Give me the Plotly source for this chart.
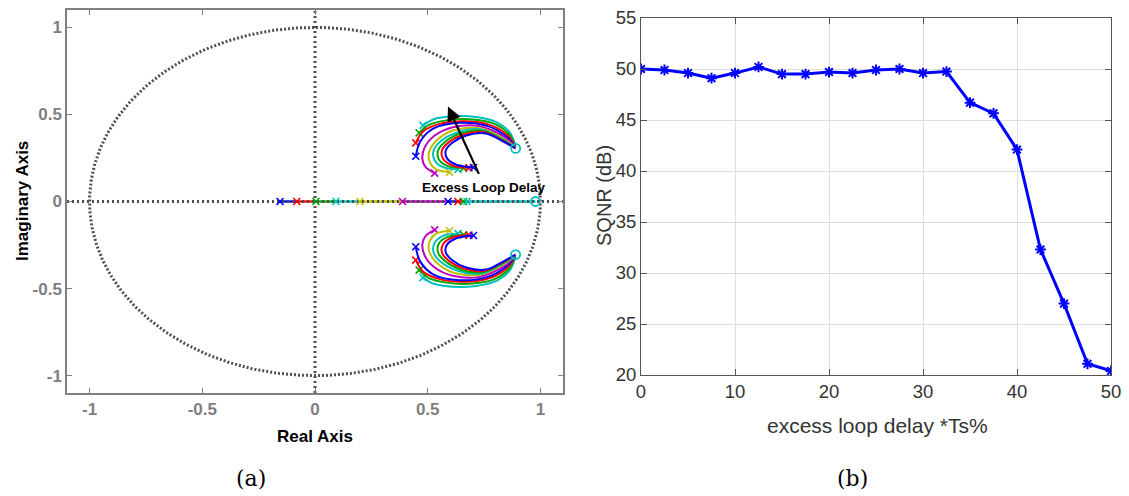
import plotly.graph_objects as go
import numpy as np

# ---------------- data ----------------
# (b) SQNR vs excess loop delay
ELD_PCT = [0, 2.5, 5, 7.5, 10, 12.5, 15, 17.5, 20, 22.5, 25, 27.5, 30, 32.5, 35, 37.5, 40, 42.5, 45, 47.5, 50]
SQNR_DB = [50.0, 49.9, 49.6, 49.1, 49.6, 50.2, 49.5, 49.5, 49.7, 49.6, 49.9, 50.0, 49.6, 49.75,
           46.7, 45.65, 42.1, 32.3, 27.0, 21.1, 20.4]
B_XTICKS = [0, 10, 20, 30, 40, 50]
B_YTICKS = [20, 25, 30, 35, 40, 45, 50, 55]

# (a) root locus (upper half; lower half is the complex conjugate)
A_TICKVALS = [-1, -0.5, 0, 0.5, 1]
A_TICKTEXT = ["-1", "-0.5", "0", "0.5", "1"]

ZERO_RE = 0.89
ZERO_IM = 0.305
REAL_ZERO = 0.978

LOCUS_COLORS = ["#00bfbf", "#00a800", "#ff0000", "#0000ff", "#bf00bf", "#bfbf00",
                "#00bfbf", "#00a800", "#ff0000", "#0000ff"]
L1_RE = [0.479, 0.524, 0.612, 0.715, 0.804, 0.863, 0.889]
L1_IM = [0.437, 0.471, 0.489, 0.485, 0.456, 0.398, 0.322]
L2_RE = [0.462, 0.501, 0.583, 0.700, 0.796, 0.859, 0.889]
L2_IM = [0.394, 0.437, 0.466, 0.471, 0.446, 0.389, 0.318]
L3_RE = [0.447, 0.479, 0.553, 0.671, 0.781, 0.855, 0.889]
L3_IM = [0.337, 0.402, 0.446, 0.461, 0.437, 0.379, 0.315]
L4_RE = [0.447, 0.465, 0.524, 0.641, 0.767, 0.851, 0.889]
L4_IM = [0.260, 0.341, 0.418, 0.452, 0.433, 0.370, 0.312]
L5_RE = [0.531, 0.491, 0.476, 0.487, 0.531, 0.612, 0.730, 0.841, 0.889]
L5_IM = [0.163, 0.197, 0.245, 0.312, 0.379, 0.427, 0.433, 0.370, 0.310]
L6_RE = [0.597, 0.538, 0.509, 0.506, 0.538, 0.612, 0.730, 0.838, 0.889]
L6_IM = [0.168, 0.184, 0.226, 0.283, 0.349, 0.408, 0.421, 0.360, 0.309]
L7_RE = [0.634, 0.568, 0.531, 0.526, 0.560, 0.634, 0.737, 0.838, 0.889]
L7_IM = [0.184, 0.197, 0.236, 0.293, 0.349, 0.398, 0.414, 0.354, 0.308]
L8_RE = [0.659, 0.590, 0.550, 0.546, 0.579, 0.648, 0.745, 0.838, 0.889]
L8_IM = [0.192, 0.203, 0.240, 0.293, 0.345, 0.392, 0.406, 0.349, 0.307]
L9_RE = [0.683, 0.609, 0.568, 0.563, 0.594, 0.660, 0.752, 0.839, 0.889]
L9_IM = [0.193, 0.207, 0.245, 0.293, 0.341, 0.385, 0.398, 0.345, 0.306]
L10_RE = [0.703, 0.627, 0.585, 0.580, 0.609, 0.671, 0.759, 0.840, 0.889]
L10_IM = [0.195, 0.211, 0.249, 0.293, 0.337, 0.379, 0.391, 0.341, 0.305]

REAL_POLES = [-0.155, -0.081, 0.004, 0.093, 0.199, 0.388, 0.59, 0.634, 0.659, 0.674]
REAL_COLORS = ["#0000ff", "#ff0000", "#00a800", "#00bfbf", "#bfbf00", "#bf00bf",
               "#0000ff", "#ff0000", "#00a800", "#00bfbf"]

LOCI = [(L1_RE, L1_IM), (L2_RE, L2_IM), (L3_RE, L3_IM), (L4_RE, L4_IM), (L5_RE, L5_IM),
        (L6_RE, L6_IM), (L7_RE, L7_IM), (L8_RE, L8_IM), (L9_RE, L9_IM), (L10_RE, L10_IM)]

# ---------------- page geometry ----------------
W, H = 1129, 496


def px(X):
    return X / W


def py(Y):
    return 1 - Y / H


# ---------------- figure ----------------
fig = go.Figure()
GRAY_DOT = "#4f4f4f"

# unit circle
th = np.linspace(0, 2 * np.pi, 400)
fig.add_trace(go.Scatter(x=np.cos(th), y=np.sin(th), mode="lines",
                         line=dict(color=GRAY_DOT, width=3, dash="2px,2px"),
                         xaxis="x", yaxis="y", hoverinfo="skip"))

# real-axis branches
seg_ends = REAL_POLES[1:] + [REAL_ZERO]
for p0, p1, c in zip(REAL_POLES, seg_ends, REAL_COLORS):
    fig.add_trace(go.Scatter(x=[p0, p1], y=[0, 0], mode="lines",
                             line=dict(color=c, width=2.4), xaxis="x", yaxis="y"))

# dotted axes lines (on top of real-axis branches)
fig.add_trace(go.Scatter(x=[-1.1, 1.1], y=[0, 0], mode="lines",
                         line=dict(color=GRAY_DOT, width=3, dash="2px,3px"),
                         xaxis="x", yaxis="y"))
fig.add_trace(go.Scatter(x=[0, 0], y=[-1.1, 1.1], mode="lines",
                         line=dict(color=GRAY_DOT, width=3, dash="2px,3px"),
                         xaxis="x", yaxis="y"))

# complex loci
for (re, im), c in zip(LOCI, LOCUS_COLORS):
    for sgn in (1, -1):
        ims = [sgn * v for v in im]
        fig.add_trace(go.Scatter(x=re, y=ims, mode="lines",
                                 line=dict(color=c, width=2, shape="spline", smoothing=0.9),
                                 xaxis="x", yaxis="y"))
        fig.add_trace(go.Scatter(x=[re[0]], y=[ims[0]], mode="markers",
                                 marker=dict(symbol="x-thin-open", size=7, color=c,
                                             line=dict(color=c, width=1.6)),
                                 xaxis="x", yaxis="y"))

# real-axis poles
fig.add_trace(go.Scatter(x=REAL_POLES, y=[0] * len(REAL_POLES), mode="markers",
                         marker=dict(symbol="x-thin-open", size=7, color=REAL_COLORS,
                                     line=dict(color=REAL_COLORS, width=1.6)),
                         xaxis="x", yaxis="y"))

# zeros
fig.add_trace(go.Scatter(x=[ZERO_RE, ZERO_RE, REAL_ZERO], y=[ZERO_IM, -ZERO_IM, 0], mode="markers",
                         marker=dict(symbol="circle-open", size=9, color="#00bfbf",
                                     line=dict(color="#00bfbf", width=1.8)),
                         xaxis="x", yaxis="y"))

# (b) SQNR curve
fig.add_trace(go.Scatter(x=ELD_PCT, y=SQNR_DB, mode="lines+markers",
                         line=dict(color="#0000ff", width=3),
                         marker=dict(symbol="asterisk-open", size=9, color="#0000ff",
                                     line=dict(color="#0000ff", width=2)),
                         xaxis="x2", yaxis="y2"))

a_tickfont = dict(family="Liberation Sans", size=17, color="#7f7f7f", weight="bold")
b_tickfont = dict(family="Liberation Sans", size=18.5, color="#333333")

fig.update_layout(
    width=W, height=H,
    margin=dict(l=0, r=0, t=0, b=0, autoexpand=False),
    paper_bgcolor="white", plot_bgcolor="white",
    showlegend=False,
    xaxis=dict(domain=[px(67), px(563)], range=[-1.1, 1.1], tickvals=A_TICKVALS,
               ticktext=A_TICKTEXT, ticks="inside", ticklen=5, tickcolor="#808080",
               showline=True, linecolor="#808080", linewidth=1.5, mirror="ticks",
               showgrid=False, zeroline=False, tickfont=a_tickfont, anchor="y"),
    yaxis=dict(domain=[py(393), py(10)], range=[-1.1, 1.1], tickvals=A_TICKVALS,
               ticktext=A_TICKTEXT, ticks="inside", ticklen=5, tickcolor="#808080",
               showline=True, linecolor="#808080", linewidth=1.5, mirror="ticks",
               showgrid=False, zeroline=False, tickfont=a_tickfont, anchor="x"),
    xaxis2=dict(domain=[px(641), px(1111)], range=[0, 50], tickvals=B_XTICKS,
                ticks="inside", ticklen=6, tickcolor="#555555",
                showline=True, linecolor="#555555", linewidth=1, mirror="ticks",
                showgrid=True, gridcolor="#dedede", gridwidth=1, zeroline=False,
                tickfont=b_tickfont, anchor="y2"),
    yaxis2=dict(domain=[py(375), py(18)], range=[20, 55], tickvals=B_YTICKS,
                ticks="inside", ticklen=6, tickcolor="#555555",
                showline=True, linecolor="#555555", linewidth=1, mirror="ticks",
                showgrid=True, gridcolor="#dedede", gridwidth=1, zeroline=False,
                tickfont=b_tickfont, anchor="x2"),
)

# arrow and label in (a)
fig.add_annotation(x=0.59, y=0.545, ax=0.73, ay=0.15, xref="x", yref="y", axref="x", ayref="y",
                   text="", showarrow=True, arrowhead=2, arrowsize=1.3, arrowwidth=2.2,
                   arrowcolor="black")
fig.add_annotation(x=0.75, y=0.08, xref="x", yref="y", text="<b>Excess Loop Delay</b>",
                   xanchor="center", yanchor="middle",
                   showarrow=False, font=dict(family="Liberation Sans", size=13.5, color="black"))


def label(X, Y, text, size, color="black", family="Liberation Sans", angle=0):
    fig.add_annotation(x=px(X), y=py(Y), xref="paper", yref="paper", text=text,
                       xanchor="center", yanchor="middle", showarrow=False, textangle=angle,
                       font=dict(family=family, size=size, color=color))


# axis titles
label(315, 436, "<b>Real Axis</b>", 17)
label(22, 201, "<b>Imaginary Axis</b>", 17, angle=-90)
label(877, 425, "excess loop delay *Ts%", 21, color="#333333")
label(604, 196, "SQNR (dB)", 20, color="#333333", angle=-90)

# panel captions
label(251, 478, "(a)", 22, family="DejaVu Serif")
label(852, 478, "(b)", 22, family="DejaVu Serif")

fig.write_html("out.html")
